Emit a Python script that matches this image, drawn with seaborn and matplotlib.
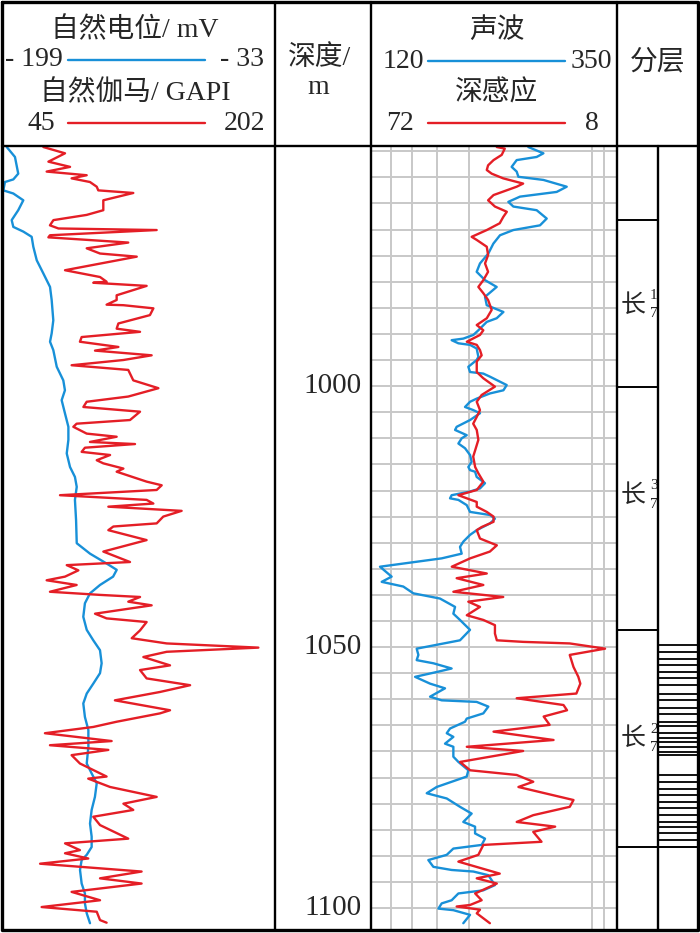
import matplotlib
matplotlib.use("Agg")
import matplotlib.pyplot as plt
import seaborn as sns

sns.set_theme(style="white")
plt.rcParams['font.family'] = ['Liberation Serif', 'Noto Sans CJK SC']

BLUE = '#1890d8'
RED = '#e41e26'
GRID = '#c8c8c8'

# depth window of the log (m)
depth_top, depth_bottom = 954.0, 1104.2
depth_ticks = [1000, 1050, 1100]

# spontaneous potential, mV (track 1, -199 .. -33)
sp_depth = [954.2, 956.1, 959.3, 960.4, 960.9, 962.5, 963.1, 964.4, 966.3, 968.2,
            969.5, 970.4, 971.4, 973.3, 975.9, 978.4, 981.0, 983.5, 987.4, 989.9,
            991.5, 993.1, 996.3, 998.9, 1000.8, 1002.7, 1005.2, 1007.8, 1010.3, 1012.9,
            1015.5, 1017.4, 1019.3, 1021.8, 1025.7, 1030.1, 1032.1, 1034.0, 1035.2, 1036.5,
            1038.1, 1039.7, 1041.6, 1044.2, 1046.7, 1048.7, 1050.6, 1053.1, 1055.0, 1057.0,
            1058.9, 1060.8, 1063.4, 1065.9, 1069.1, 1072.3, 1074.2, 1076.1, 1078.7, 1081.2,
            1083.8, 1086.3, 1088.3, 1089.8, 1090.8, 1092.7, 1095.3, 1097.2, 1099.1, 1101.0,
            1102.9]
sp_value = [-196.7, -191.7, -189.7, -192.7, -197.8, -198.8, -192.7, -186.6, -189.7, -193.7,
            -192.7, -186.6, -181.5, -180.5, -178.4, -174.4, -170.3, -169.3, -168.3, -169.3,
            -170.3, -168.3, -166.2, -162.2, -161.2, -163.2, -161.2, -159.1, -159.1, -160.1,
            -158.1, -155.1, -154.0, -155.1, -154.4, -154.0, -145.9, -135.7, -129.6, -131.8,
            -139.8, -145.9, -149.0, -150.0, -147.9, -143.9, -139.8, -138.8, -139.8, -143.9,
            -147.9, -150.0, -149.0, -146.9, -146.9, -147.9, -144.9, -141.8, -142.9, -144.9,
            -145.9, -144.9, -144.9, -147.9, -151.0, -152.0, -151.0, -149.0, -149.0, -147.9,
            -145.9]

# natural gamma, GAPI (track 1, 45 .. 202)
gr_depth = [954.2, 955.4, 957.0, 958.0, 958.9, 959.6, 960.2, 960.9, 961.8, 962.5,
            963.0, 964.4, 966.3, 967.2, 968.2, 969.2, 969.8, 970.1, 971.1, 971.5,
            972.5, 973.6, 974.6, 975.2, 977.8, 979.1, 980.0, 980.2, 980.8, 982.6,
            983.5, 984.4, 984.5, 985.1, 986.4, 988.0, 989.0, 989.6, 990.6, 991.5,
            992.5, 993.2, 994.1, 995.0, 996.0, 996.9, 998.9, 1000.4, 1002.0, 1003.0,
            1004.0, 1004.9, 1006.5, 1007.2, 1007.8, 1009.1, 1009.7, 1010.7, 1011.1, 1011.8,
            1012.6, 1013.2, 1014.2, 1014.8, 1015.8, 1016.4, 1018.3, 1019.0, 1019.9, 1020.9,
            1021.8, 1022.5, 1023.1, 1023.9, 1025.0, 1026.3, 1026.9, 1027.6, 1029.5, 1031.7,
            1033.7, 1034.3, 1035.3, 1036.5, 1037.2, 1038.1, 1039.4, 1040.0, 1040.4, 1041.3,
            1042.0, 1043.6, 1044.5, 1045.2, 1046.8, 1048.3, 1049.3, 1050.1, 1050.9, 1051.9,
            1053.5, 1054.4, 1056.0, 1057.3, 1058.6, 1060.2, 1062.1, 1062.7, 1064.3, 1065.3,
            1066.5, 1068.0, 1068.8, 1069.7, 1070.7, 1072.3, 1074.8, 1075.2, 1076.8, 1078.7,
            1080.0, 1081.2, 1082.5, 1084.1, 1086.7, 1087.6, 1088.9, 1089.5, 1090.5, 1091.5,
            1093.0, 1094.3, 1095.3, 1096.9, 1098.5, 1099.8, 1100.7, 1102.3, 1102.8]
gr_value = [68.3, 80.8, 71.2, 83.7, 70.2, 93.3, 84.6, 95.2, 99.1, 100.0,
            120.2, 102.9, 102.9, 93.3, 74.1, 72.1, 77.0, 133.7, 72.1, 71.2,
            117.3, 93.3, 101.0, 122.2, 80.8, 101.0, 104.8, 97.1, 127.9, 110.6,
            110.6, 104.8, 114.5, 131.8, 129.8, 111.6, 110.6, 124.1, 90.4, 89.4,
            111.6, 98.1, 130.8, 114.5, 84.6, 117.3, 120.2, 134.7, 117.3, 93.3,
            91.4, 124.1, 118.3, 87.5, 85.6, 93.3, 110.6, 95.2, 121.2, 92.3,
            90.4, 106.8, 99.1, 102.9, 114.5, 110.6, 127.9, 136.6, 133.7, 77.9,
            127.9, 131.8, 105.8, 148.1, 137.5, 133.7, 108.7, 105.8, 127.9, 102.9,
            118.3, 81.8, 88.5, 80.8, 70.2, 87.5, 72.1, 101.0, 124.1, 117.3,
            130.8, 98.1, 104.8, 127.9, 124.1, 119.3, 139.5, 192.4, 139.5, 126.0,
            141.4, 124.1, 127.9, 153.0, 135.6, 109.6, 141.4, 135.6, 110.6, 97.1,
            69.2, 107.7, 72.1, 105.8, 84.6, 89.4, 104.8, 94.2, 106.8, 133.7,
            114.5, 120.2, 97.1, 101.0, 117.3, 80.8, 89.4, 80.8, 94.2, 66.4,
            125.0, 101.0, 125.0, 84.6, 101.0, 67.3, 99.1, 101.0, 104.8]

# acoustic (track 3, 120 .. 350)
ac_depth = [954.2, 955.4, 956.1, 956.7, 958.0, 958.9, 959.9, 960.5, 961.8, 962.8,
            963.7, 964.7, 965.6, 966.3, 967.9, 969.2, 970.1, 971.1, 972.7, 974.6,
            976.5, 978.1, 979.7, 981.0, 982.9, 984.5, 985.8, 987.0, 987.7, 989.3,
            990.2, 990.9, 991.2, 991.8, 992.1, 992.8, 994.4, 995.0, 996.3, 997.3,
            997.6, 998.2, 999.8, 1000.8, 1001.4, 1002.4, 1003.0, 1004.0, 1004.6, 1005.2,
            1006.5, 1007.8, 1008.4, 1009.4, 1010.0, 1011.0, 1011.9, 1013.2, 1014.5, 1015.5,
            1016.1, 1016.4, 1017.4, 1018.6, 1019.6, 1020.2, 1020.9, 1021.5, 1021.8, 1022.8,
            1024.1, 1024.7, 1025.4, 1026.3, 1027.6, 1028.5, 1029.8, 1030.8, 1032.1, 1033.0,
            1034.0, 1034.6, 1036.5, 1037.5, 1038.4, 1039.7, 1040.7, 1042.3, 1043.6, 1044.8,
            1046.7, 1048.7, 1050.3, 1051.5, 1052.5, 1053.1, 1054.1, 1054.7, 1055.7, 1057.0,
            1057.9, 1059.5, 1060.2, 1060.5, 1061.4, 1062.7, 1063.7, 1064.3, 1065.6, 1066.5,
            1067.2, 1068.5, 1069.1, 1071.0, 1072.0, 1073.6, 1074.8, 1076.8, 1078.0, 1079.0,
            1080.6, 1081.9, 1083.5, 1084.4, 1085.7, 1086.7, 1087.9, 1088.6, 1089.8, 1090.8,
            1092.1, 1092.7, 1093.0, 1093.7, 1095.6, 1096.6, 1097.2, 1098.5, 1099.1, 1100.1,
            1100.4, 1101.3, 1102.9]
ac_value = [267.1, 281.2, 274.9, 256.2, 251.5, 256.2, 257.8, 281.2, 303.0, 293.6,
            259.3, 248.4, 253.1, 274.9, 284.3, 278.0, 253.1, 240.6, 234.4, 229.7,
            221.9, 218.8, 226.6, 237.5, 226.6, 228.2, 243.8, 237.5, 228.2, 220.4,
            215.7, 206.3, 195.4, 201.7, 212.6, 218.8, 220.4, 218.8, 211.0, 212.6,
            225.0, 231.3, 246.9, 243.8, 231.3, 218.8, 212.6, 207.9, 215.7, 221.9,
            212.6, 200.1, 198.6, 209.5, 204.8, 201.7, 207.9, 212.6, 214.1, 211.0,
            212.6, 217.3, 218.8, 226.6, 221.9, 212.6, 195.4, 193.9, 201.7, 209.5,
            212.6, 231.3, 235.9, 231.3, 218.8, 212.6, 206.3, 203.2, 204.8, 186.1,
            150.2, 128.4, 139.3, 130.0, 150.2, 159.6, 184.5, 198.6, 197.0, 203.2,
            212.6, 203.2, 162.7, 164.3, 162.7, 178.3, 195.4, 183.0, 161.2, 175.2,
            189.2, 175.2, 186.1, 218.8, 229.7, 225.0, 209.5, 207.9, 193.9, 190.8,
            197.0, 189.2, 197.0, 197.0, 201.7, 211.0, 209.5, 181.4, 172.1, 190.8,
            203.2, 214.1, 206.3, 217.3, 217.3, 226.6, 223.5, 197.0, 190.8, 173.6,
            178.3, 195.4, 215.7, 229.7, 235.9, 225.0, 201.7, 195.4, 186.1, 183.0,
            197.0, 212.6, 206.3]

# deep induction (track 3, log scale 72 .. 8)
rd_depth = [954.2, 954.5, 955.7, 956.7, 957.7, 958.6, 959.3, 960.2, 961.2, 961.8,
            963.4, 964.4, 965.6, 966.6, 967.6, 968.8, 970.1, 971.4, 972.0, 973.3,
            974.9, 976.5, 978.1, 979.7, 981.0, 982.2, 983.5, 985.4, 987.0, 988.3,
            989.3, 990.2, 991.5, 992.1, 993.1, 994.1, 995.3, 997.3, 998.5, 1000.1,
            1001.7, 1003.0, 1004.6, 1005.9, 1007.2, 1008.4, 1010.3, 1012.3, 1013.5, 1015.5,
            1016.7, 1018.3, 1019.9, 1020.9, 1022.2, 1023.1, 1024.1, 1025.0, 1026.0, 1027.0,
            1027.6, 1029.2, 1030.5, 1031.7, 1033.0, 1034.6, 1035.9, 1036.8, 1038.1, 1039.4,
            1040.4, 1041.3, 1042.3, 1043.9, 1044.8, 1045.8, 1047.4, 1048.7, 1049.0, 1049.3,
            1050.3, 1051.5, 1053.8, 1055.7, 1057.0, 1058.9, 1059.8, 1061.1, 1062.1, 1063.3,
            1064.9, 1066.2, 1067.8, 1069.1, 1069.9, 1072.0, 1073.6, 1074.5, 1075.8, 1076.8,
            1079.3, 1080.6, 1082.2, 1083.5, 1084.4, 1085.4, 1087.3, 1087.9, 1089.8, 1091.1,
            1093.4, 1094.3, 1095.3, 1097.2, 1098.5, 1099.4, 1099.7, 1100.3, 1101.0, 1102.9]
rd_value = [23.4, 21.8, 22.4, 24.1, 25.3, 25.6, 24.5, 22.1, 18.5, 19.6,
            24.1, 25.3, 23.8, 21.4, 22.1, 22.8, 25.6, 29.3, 28.0, 25.6,
            25.3, 26.0, 25.3, 26.4, 27.6, 26.4, 25.3, 24.5, 25.6, 28.0,
            26.4, 27.2, 30.6, 28.0, 27.2, 26.8, 28.0, 28.0, 26.4, 23.8,
            26.8, 28.0, 27.2, 28.0, 28.9, 28.0, 27.6, 28.4, 28.9, 28.4,
            27.6, 26.4, 28.0, 33.0, 28.0, 28.0, 25.6, 24.1, 24.1, 26.8,
            28.0, 27.2, 23.4, 24.9, 29.7, 35.0, 25.6, 33.5, 26.4, 34.5,
            22.1, 30.2, 27.2, 30.6, 26.4, 23.8, 23.8, 23.4, 18.5, 12.2,
            8.9, 12.2, 11.8, 11.3, 11.1, 11.5, 19.6, 12.9, 12.5, 15.4,
            14.6, 24.1, 14.1, 30.6, 18.5, 32.5, 29.7, 19.6, 16.9, 19.3,
            11.8, 12.2, 16.9, 19.6, 13.9, 16.9, 15.7, 26.4, 27.6, 33.0,
            22.8, 28.0, 23.4, 28.4, 26.8, 29.7, 33.5, 27.2, 28.0, 24.9]

# track 3 log grid and depth grid
grid_rd = [60, 50, 40, 30, 10, 9]
grid_depths = list(range(955, 1101, 5))

# stratigraphy
layer_sup = ['1', '3', '2']
layer_mid = [984.5, 1021.0, 1067.6]
layer_lines = [968.1, 1000.2, 1046.7]
layer_base = 1088.3
sand_lines = [1049.6, 1050.9, 1052.2, 1053.4, 1054.7, 1056.0, 1057.3, 1058.9, 1060.2, 1061.6,
              1062.9, 1064.3, 1065.1, 1066.5, 1067.5, 1068.1, 1069.1, 1070.1, 1070.7, 1074.5,
              1075.8, 1077.1, 1078.4, 1079.6, 1080.9, 1082.2, 1083.5, 1084.5, 1085.7, 1087.0]

W, H = 700, 933
LW = 1.7
fig = plt.figure(figsize=(7, 9.33), dpi=100)


def track_axes(x0, x1, y0=146, y1=930):
    ax = fig.add_axes([x0 / W, 1 - y1 / H, (x1 - x0) / W, (y1 - y0) / H])
    ax.set_facecolor('none')
    return ax


def finish(ax, xlim, log=False):
    if log:
        ax.set_xscale('log')
    ax.set_xlim(*xlim)
    ax.set_ylim(depth_bottom, depth_top)
    ax.axis('off')


# track 1
ax_sp = track_axes(3, 275)
sns.lineplot(x=sp_value, y=sp_depth, sort=False, estimator=None, color=BLUE,
             linewidth=LW, ax=ax_sp)
finish(ax_sp, (-199, -33))
ax_gr = track_axes(3, 275)
sns.lineplot(x=gr_value, y=gr_depth, sort=False, estimator=None, color=RED,
             linewidth=LW, ax=ax_gr)
finish(ax_gr, (45, 202))

# depth column
ax_d = track_axes(275, 371)
for d in depth_ticks:
    ax_d.text(0.906, d, str(d), ha='right', va='center', fontsize=21)
finish(ax_d, (0, 1))

# track 3
ax_g = track_axes(371, 617)
finish(ax_g, (72, 8), log=True)
for v in grid_rd:
    ax_g.axvline(v, color=GRID, lw=1.4)
for d in grid_depths:
    ax_g.axhline(d, color=GRID, lw=1.4)

ax_ac = track_axes(371, 617)
sns.lineplot(x=ac_value, y=ac_depth, sort=False, estimator=None, color=BLUE,
             linewidth=LW, ax=ax_ac)
finish(ax_ac, (120, 350))
ax_rd = track_axes(371, 617)
sns.lineplot(x=rd_value, y=rd_depth, sort=False, estimator=None, color=RED,
             linewidth=LW, ax=ax_rd)
finish(ax_rd, (72, 8), log=True)

# stratigraphy columns
ax_l = track_axes(617, 658)
finish(ax_l, (0, 1))
for d in layer_lines + [layer_base]:
    ax_l.axhline(d, color='black', lw=1.4)
for d, s in zip(layer_mid, layer_sup):
    ax_l.text(0.40, d, '长', ha='center', va='center', fontsize=18)
    ax_l.text(0.90, d - 1.9, s, ha='center', va='center', fontsize=11)
    ax_l.text(0.90, d + 1.6, '7', ha='center', va='center', fontsize=11)

ax_s = track_axes(658, 698)
finish(ax_s, (0, 1))
for d in sand_lines:
    ax_s.axhline(d, color='black', lw=1.3)
ax_s.axhline(layer_base, color='black', lw=1.4)

# table frame and header
ax_f = fig.add_axes([0, 0, 1, 1])
ax_f.set_facecolor('none')
ax_f.set_xlim(0, W)
ax_f.set_ylim(H, 0)
ax_f.axis('off')
ax_f.plot([2, 698, 698, 2, 2], [2, 2, 930, 930, 2], color='black', lw=2.4)
ax_f.plot([2, 698], [146, 146], color='black', lw=1.7)
for x in (275, 371, 617):
    ax_f.plot([x, x], [2, 930], color='black', lw=1.7)
ax_f.plot([658, 658], [146, 930], color='black', lw=1.7)

fs = 20
ax_f.text(135, 30, '自然电位/ mV', ha='center', va='center', fontsize=fs)
ax_f.text(5, 60, '- 199', ha='left', va='center', fontsize=fs)
ax_f.plot([68, 205], [60, 60], color=BLUE, lw=LW)
ax_f.text(264, 60, '- 33', ha='right', va='center', fontsize=fs)
ax_f.text(135, 93, '自然伽马/ GAPI', ha='center', va='center', fontsize=fs)
ax_f.text(41, 123, '45', ha='center', va='center', fontsize=fs)
ax_f.plot([68, 205], [123, 123], color=RED, lw=LW)
ax_f.text(265, 123, '202', ha='right', va='center', fontsize=fs)

ax_f.text(320, 58, '深度/', ha='center', va='center', fontsize=fs)
ax_f.text(318, 88, 'm', ha='center', va='center', fontsize=fs)

ax_f.text(497, 31, '声波', ha='center', va='center', fontsize=fs)
ax_f.text(403, 62, '120', ha='center', va='center', fontsize=fs)
ax_f.plot([428, 565], [61, 61], color=BLUE, lw=LW)
ax_f.text(591, 62, '350', ha='center', va='center', fontsize=fs)
ax_f.text(497, 93, '深感应', ha='center', va='center', fontsize=fs)
ax_f.text(400, 123, '72', ha='center', va='center', fontsize=fs)
ax_f.plot([428, 565], [123, 123], color=RED, lw=LW)
ax_f.text(592, 123, '8', ha='center', va='center', fontsize=fs)

ax_f.text(658, 63, '分层', ha='center', va='center', fontsize=fs)

fig.savefig('out.png', dpi=100, facecolor='white')
